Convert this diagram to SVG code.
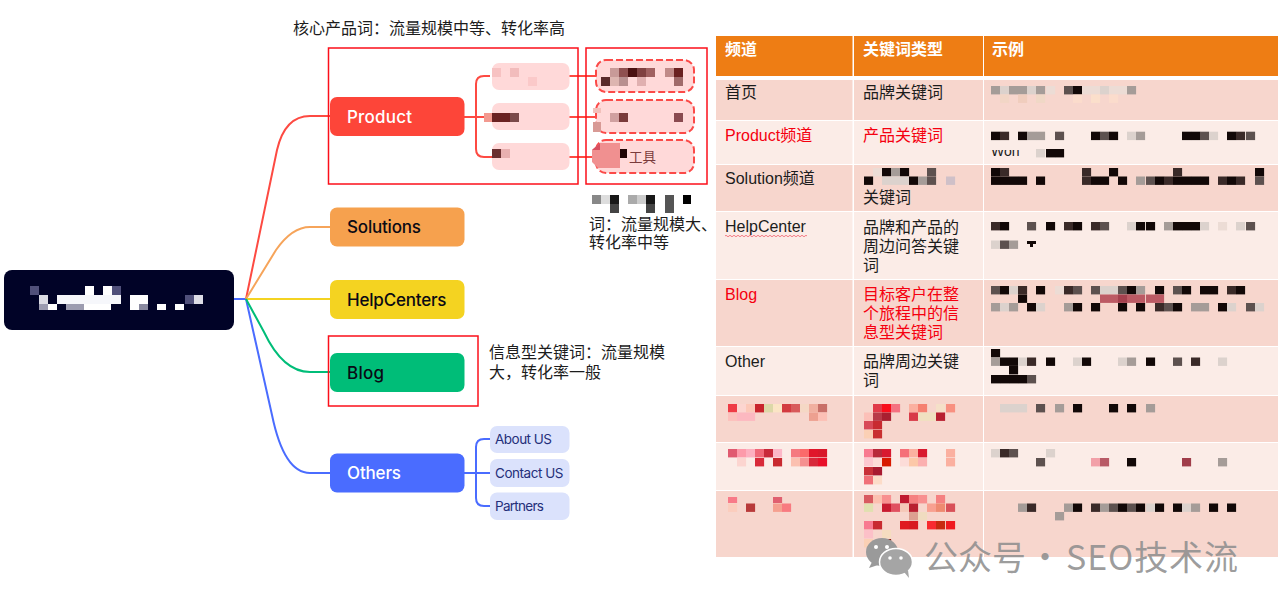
<svg xmlns="http://www.w3.org/2000/svg" width="1280" height="610" viewBox="0 0 1280 610">
<style>
text{font-family:"Liberation Sans","Noto Sans CJK SC",sans-serif;font-size:16px;fill:#1c1c1c}
.n{font-family:Inter,"Noto Sans",sans-serif;font-size:17px;font-weight:500;fill:#0a0a14}
.w{fill:#fff}
.s{font-family:Inter,"Noto Sans",sans-serif;font-size:13.500px;fill:#252f7a}
.red{fill:#f5000f}
.h{font-weight:700;fill:#fff}
.f{fill:none;stroke-width:2}
.box{fill:none;stroke:#fc0f1a;stroke-width:1.5}
.c{fill:#ffd9d9}
.dash{fill:#ffd9d9;stroke:#fb4a48;stroke-width:2;stroke-dasharray:7 3}
.o{fill:#dbe2fc}
.m rect{width:9.1px;height:8.4px}
.a{fill:#120807}.b{fill:#3a2a28}.d{fill:#5d514f}.g{fill:#a59c98}.l{fill:#dcd2cd}.t{fill:#ecdcd5}
.wm{font-family:"Noto Sans CJK SC","Liberation Sans",sans-serif;font-size:34px;fill:#8f8f8f;fill-opacity:.88}
</style>
<defs><clipPath id="wc"><rect x="990" y="150" width="40" height="8"/></clipPath></defs>

<g id="connectors">
<path class="f" stroke="#4a6cff" d="M234 299H246"/>
<path class="f" stroke="#fd4a42" d="M246 299L277 150Q285 116 310 116H330"/>
<path class="f" stroke="#f6a45a" d="M246 299L276 250Q292 227 310 227H330"/>
<path class="f" stroke="#f4d321" d="M246 299H330"/>
<path class="f" stroke="#4a6cff" d="M246 299L272 415Q284 473 310 473H330"/>
<path class="f" stroke="#00bd78" d="M246 299L264 332Q283 372 310 372H330"/>
<path class="f" stroke="#fd4a42" d="M464 117H492M490 76H484Q476 76 476 84V149Q476 157 484 157H492M569 76H596M569 117H596M569 157H596"/>
<path class="f" stroke="#4a6cff" d="M464 473H490M490 439H484Q476 439 476 447V498Q476 506 484 506H490"/>
</g>

<g id="root"><rect x="4" y="270" width="230" height="60" rx="8" fill="#010327"/>
<g><rect x="30" y="286" width="9" height="9" fill="#50507a"/><rect x="85" y="286" width="9" height="9" fill="#fff"/><rect x="103" y="286" width="9" height="9" fill="#fff"/><rect x="112" y="286" width="9" height="9" fill="#50507a"/><rect x="39" y="295" width="9" height="9" fill="#dcdce4"/><rect x="57" y="295" width="64" height="9" fill="#f6f7fb"/><rect x="130" y="295" width="18" height="9" fill="#fff"/><rect x="185" y="295" width="9" height="9" fill="#50507a"/><rect x="194" y="295" width="9" height="9" fill="#dddde6"/><rect x="39" y="304" width="9" height="6" fill="#9c9cb0"/><rect x="48" y="304" width="9" height="6" fill="#fff"/><rect x="66" y="304" width="18" height="6" fill="#9c9cb0"/><rect x="84" y="304" width="27" height="6" fill="#fff"/><rect x="130" y="304" width="9" height="6" fill="#fff"/><rect x="139" y="304" width="9" height="6" fill="#8a8aa0"/><rect x="157" y="304" width="9" height="6" fill="#fff"/><rect x="175" y="304" width="9" height="6" fill="#fff"/></g></g>

<g id="product"><rect x="330" y="97" width="134.500" height="39" rx="7" fill="#fd4539"/><text class="n w" x="347" y="123" textLength="65">Product</text></g>
<g id="solutions"><rect x="330" y="207.500" width="134.500" height="39" rx="7" fill="#f6a14e"/><text class="n" x="347" y="233" textLength="74">Solutions</text></g>
<g id="helpcenters"><rect x="330" y="280" width="134.500" height="39" rx="7" fill="#f4d321"/><text class="n" x="347" y="306" textLength="99.500">HelpCenters</text></g>
<g id="blog"><rect x="330" y="353" width="134.500" height="39" rx="7" fill="#00bd78"/><text class="n" x="347" y="379" textLength="37">Blog</text></g>
<g id="others"><rect x="330" y="453.500" width="134.500" height="39" rx="7" fill="#4a6cff"/><text class="n w" x="347" y="479" textLength="54">Others</text></g>

<g id="product-children">
<g id="p1"><rect class="c" x="492" y="63" width="77.500" height="27" rx="7"/><rect x="492" y="68" width="9" height="9" fill="#f7c2c2"/><rect x="510" y="68" width="9" height="9" fill="#f2bcbc"/><rect x="528" y="77" width="9" height="9" fill="#fbc9c9"/></g>
<g id="p2"><rect class="c" x="492" y="103" width="77.500" height="27" rx="7"/><rect x="484" y="113" width="8" height="9" fill="#f29a90"/><rect x="492" y="113" width="18" height="9" fill="#6a2222"/><rect x="510" y="113" width="9" height="9" fill="#7a4a4a"/></g>
<g id="p3"><rect class="c" x="492" y="143" width="77.500" height="27" rx="7"/><rect x="492" y="149" width="9" height="9" fill="#6a3030"/><rect x="501" y="149" width="9" height="9" fill="#e8b0b0"/></g>
</g>
<g id="d1"><rect class="dash" x="596" y="60" width="98" height="32" rx="10"/><rect x="610" y="68" width="9" height="9" fill="#c89a98"/><rect x="619" y="68" width="9" height="9" fill="#8f5050"/><rect x="628" y="68" width="9" height="9" fill="#4a1010"/><rect x="637" y="68" width="9" height="9" fill="#7f4040"/><rect x="646" y="68" width="9" height="9" fill="#a06060"/><rect x="665" y="68" width="9" height="9" fill="#c08a88"/><rect x="674" y="68" width="9" height="9" fill="#6a2020"/><rect x="601" y="77" width="9" height="9" fill="#5a2a2a"/><rect x="610" y="77" width="9" height="9" fill="#ddb5b0"/><rect x="619" y="77" width="9" height="9" fill="#b89090"/><rect x="637" y="77" width="9" height="9" fill="#e0b0b0"/><rect x="674" y="77" width="9" height="9" fill="#a06a6a"/></g>
<g id="d2"><rect class="dash" x="596" y="100" width="98" height="33" rx="10"/><rect x="593" y="108" width="8" height="5" fill="#f2c0ba"/><rect x="593" y="122" width="8" height="10" fill="#d89a95"/><rect x="610" y="113" width="9" height="9" fill="#d0a0a0"/><rect x="619" y="113" width="9" height="9" fill="#7a3a3a"/><rect x="674" y="113" width="9" height="9" fill="#8a4a50"/></g>
<g id="d3"><rect class="dash" x="596" y="140" width="98" height="33" rx="10"/><path d="M592 150L600 143H620V168H598L592 162Z" fill="#f09090"/><path d="M592 150L600 143V150Z" fill="#d85060"/><rect x="620" y="149" width="7" height="9" fill="#200404"/><text x="629" y="162" style="font-size:13.500px;fill:#7a3b3b">工具</text></g>

<g id="notes">
<text x="293" y="34">核心产品词：流量规模中等、转化率高</text>
<rect class="box" x="328.500" y="48" width="249.500" height="136"/>
<rect class="box" x="586" y="48" width="121" height="136"/>
<rect class="box" x="328.500" y="336" width="149.500" height="70"/>
<rect x="592" y="195" width="9" height="9" fill="#888"/><rect x="601" y="195" width="9" height="9" fill="#ddd"/><rect x="610" y="195" width="9" height="9" fill="#181818"/><rect x="610" y="204" width="9" height="9" fill="#444"/><rect x="628" y="195" width="9" height="9" fill="#aaa"/><rect x="637" y="195" width="9" height="9" fill="#ccc"/><rect x="646" y="195" width="9" height="9" fill="#181818"/><rect x="646" y="204" width="9" height="9" fill="#444"/><rect x="665" y="195" width="9" height="18" fill="#555"/><rect x="683" y="195" width="8" height="9" fill="#000"/>
<text x="589" y="230">词：流量规模大、</text><text x="589" y="248">转化率中等</text>
<text x="489" y="358">信息型关键词：流量规模</text><text x="489" y="378">大，转化率一般</text>
</g>

<g id="others-children">
<g id="about"><rect class="o" x="490" y="426" width="79.500" height="27" rx="7"/><text class="s" x="495" y="444" textLength="57">About US</text></g>
<g id="contact"><rect class="o" x="490" y="459" width="79.500" height="28" rx="7"/><text class="s" x="495" y="478" textLength="68.500">Contact US</text></g>
<g id="partners"><rect class="o" x="490" y="492.500" width="79.500" height="27.500" rx="7"/><text class="s" x="495" y="511" textLength="49">Partners</text></g>
</g>

<g id="table">
<g fill="#ee7d14"><rect x="716" y="36" width="136.500" height="40"/><rect x="854" y="36" width="129" height="40"/><rect x="984" y="36" width="294" height="40"/></g>
<g fill="#f7d6cd"><rect x="716" y="80" width="136.500" height="40"/><rect x="854" y="80" width="129" height="40"/><rect x="984" y="80" width="294" height="40"/>
<rect x="716" y="165" width="136.500" height="46"/><rect x="854" y="165" width="129" height="46"/><rect x="984" y="165" width="294" height="46"/>
<rect x="716" y="280" width="136.500" height="66"/><rect x="854" y="280" width="129" height="66"/><rect x="984" y="280" width="294" height="66"/>
<rect x="716" y="396" width="136.500" height="46"/><rect x="854" y="396" width="129" height="46"/><rect x="984" y="396" width="294" height="46"/>
<rect x="716" y="491" width="136.500" height="66"/><rect x="854" y="491" width="129" height="66"/><rect x="984" y="491" width="294" height="66"/></g>
<g fill="#fbece7"><rect x="716" y="121" width="136.500" height="43"/><rect x="854" y="121" width="129" height="43"/><rect x="984" y="121" width="294" height="43"/>
<rect x="716" y="212" width="136.500" height="67"/><rect x="854" y="212" width="129" height="67"/><rect x="984" y="212" width="294" height="67"/>
<rect x="716" y="347" width="136.500" height="48"/><rect x="854" y="347" width="129" height="48"/><rect x="984" y="347" width="294" height="48"/>
<rect x="716" y="443" width="136.500" height="47"/><rect x="854" y="443" width="129" height="47"/><rect x="984" y="443" width="294" height="47"/></g>

<text class="h" x="725" y="55">频道</text><text class="h" x="863" y="55">关键词类型</text><text class="h" x="992" y="55">示例</text>
<text x="725" y="98">首页</text><text x="863" y="98">品牌关键词</text>
<text class="red" x="725" y="141">Product频道</text><text class="red" x="863" y="141">产品关键词</text>
<text x="725" y="184">Solution频道</text><text x="863" y="203">关键词</text>
<text x="725" y="232">HelpCenter</text>
<path d="M725 236q1-1.500 2 0t2 0t2 0t2 0t2 0t2 0t2 0t2 0t2 0t2 0t2 0t2 0t2 0t2 0t2 0t2 0t2 0t2 0t2 0t2 0t2 0t2 0t2 0t2 0t2 0t2 0t2 0t2 0t2 0t2 0t2 0t2 0t2 0t2 0t2 0t2 0t2 0t2 0t2 0t2 0t2 0" fill="none" stroke="#ef4a5a" stroke-width=".7"/>
<text x="863" y="233">品牌和产品的</text><text x="863" y="252">周边问答关键</text><text x="863" y="271">词</text>
<text class="red" x="725" y="300">Blog</text><text class="red" x="863" y="300">目标客户在整</text><text class="red" x="863" y="319">个旅程中的信</text><text class="red" x="863" y="338">息型关键词</text>
<text x="725" y="367">Other</text><text x="863" y="367">品牌周边关键</text><text x="863" y="386">词</text>
<text clip-path="url(#wc)" x="991" y="156" style="font-size:14px">Won</text>

<g id="mosaic-dark" class="m">
<rect class="g" x="991" y="86"/><rect class="l" x="1000" y="86"/><rect class="g" x="1009" y="86"/><rect class="g" x="1018" y="86"/><rect class="l" x="1027" y="86"/><rect class="g" x="1036" y="86"/><rect class="t" x="1046" y="86"/><rect class="d" x="1064" y="86"/><rect class="a" x="1073" y="86"/><rect class="t" x="1082" y="86"/><rect class="t" x="1091" y="86"/><rect class="l" x="1100" y="86"/><rect class="t" x="1109" y="86"/><rect class="t" x="1118" y="86"/><rect class="g" x="1127" y="86"/>
<rect x="1000" y="94.500" fill="#f2d6c6"/><rect x="1018" y="94.500" fill="#f0cdbd"/><rect x="1036" y="94.500" fill="#f0d8c6"/><rect x="1073" y="94.500" fill="#fbdccc"/><rect x="1091" y="94.500" fill="#fbdfcb"/><rect x="1109" y="94.500" fill="#fbdccc"/>
<rect class="a" x="991" y="131.700"/><rect class="b" x="1000" y="131.700"/><rect class="a" x="1018" y="131.700"/><rect class="g" x="1027" y="131.700"/><rect class="g" x="1036" y="131.700"/><rect class="d" x="1055" y="131.700"/><rect class="a" x="1091" y="131.700"/><rect class="d" x="1100" y="131.700"/><rect class="a" x="1109" y="131.700"/><rect class="l" x="1127" y="131.700"/><rect class="g" x="1136" y="131.700"/><rect class="a" x="1182" y="131.700"/><rect class="a" x="1191" y="131.700"/><rect class="d" x="1200" y="131.700"/><rect class="l" x="1209" y="131.700"/><rect class="a" x="1227" y="131.700"/><rect class="b" x="1236" y="131.700"/><rect class="d" x="1246" y="131.700"/>
<rect class="l" x="1036" y="149"/><rect class="a" x="1046" y="149"/><rect class="a" x="1055" y="149"/>
<rect class="a" x="991" y="168"/><rect class="b" x="1000" y="168"/><rect class="a" x="991" y="176.500"/><rect class="a" x="1000" y="176.500"/><rect class="a" x="1009" y="176.500"/><rect class="a" x="1018" y="176.500"/><rect class="a" x="1036" y="176.500"/><rect class="b" x="1082" y="168"/><rect class="b" x="1082" y="176.500"/><rect class="a" x="1091" y="176.500"/><rect class="a" x="1100" y="176.500"/><rect class="a" x="1109" y="168"/><rect class="a" x="1118" y="176.500"/><rect class="g" x="1136" y="176.500"/><rect class="d" x="1146" y="176.500"/><rect class="a" x="1155" y="176.500"/><rect class="b" x="1164" y="176.500"/><rect class="a" x="1173" y="176.500"/><rect class="a" x="1182" y="176.500"/><rect class="a" x="1191" y="176.500"/><rect class="a" x="1200" y="176.500"/><rect class="b" x="1173" y="168"/><rect class="b" x="1218" y="176.500"/><rect class="a" x="1227" y="176.500"/><rect class="b" x="1236" y="176.500"/><rect class="a" x="1255" y="168"/><rect class="d" x="1255" y="176.500"/>
<rect class="t" x="873" y="168"/><rect class="a" x="882" y="168"/><rect class="g" x="891" y="168"/><rect class="a" x="900" y="168"/><rect class="d" x="927" y="168"/><rect class="a" x="864" y="176.500"/><rect class="l" x="882" y="176.500"/><rect class="l" x="891" y="176.500"/><rect class="l" x="900" y="176.500"/><rect class="a" x="909" y="176.500"/><rect class="g" x="918" y="176.500"/><rect class="d" x="927" y="176.500"/><rect x="946" y="176.500" fill="#cfc0c8"/>
<rect class="b" x="991" y="222"/><rect class="a" x="1000" y="222"/><rect class="d" x="1027" y="222"/><rect class="a" x="1046" y="222"/><rect class="b" x="1064" y="222"/><rect class="a" x="1073" y="222"/><rect class="b" x="1091" y="222"/><rect class="d" x="1100" y="222"/><rect class="l" x="1127" y="222"/><rect class="a" x="1136" y="222"/><rect class="a" x="1146" y="222"/><rect class="g" x="1164" y="222"/><rect class="a" x="1173" y="222"/><rect class="a" x="1182" y="222"/><rect class="a" x="1191" y="222"/><rect class="l" x="1200" y="222"/><rect class="t" x="1218" y="222"/><rect class="l" x="1236" y="222"/><rect class="d" x="1246" y="222"/>
<rect class="l" x="991" y="240.500"/><rect class="d" x="1000" y="240.500"/><rect class="g" x="1009" y="240.500"/><path class="a" d="M1027 241h9v3h-3v3h-3v-3h-3z"/>
<rect class="d" x="991" y="286"/><rect class="a" x="1000" y="286"/><rect class="l" x="1009" y="286"/><rect class="b" x="1018" y="286"/><rect class="a" x="1036" y="286"/><rect class="t" x="1055" y="286"/><rect class="b" x="1064" y="286"/><rect class="d" x="1073" y="286"/><rect class="d" x="1091" y="286"/><rect class="l" x="1100" y="286"/><rect class="l" x="1109" y="286"/><rect class="d" x="1118" y="286"/><rect class="a" x="1127" y="286"/><rect class="g" x="1136" y="286"/><rect class="a" x="1155" y="286"/><rect class="d" x="1173" y="286"/><rect class="a" x="1182" y="286"/><rect class="a" x="1200" y="286"/><rect class="a" x="1209" y="286"/><rect class="b" x="1227" y="286"/><rect class="a" x="1236" y="286"/>
<rect class="a" x="1018" y="294.500"/><rect fill="#bc5a64" x="1100" y="294.500"/><rect fill="#bc5a64" x="1109" y="294.500"/><rect fill="#a5404e" x="1118" y="294.500"/><rect fill="#bc5a64" x="1127" y="294.500"/><rect fill="#bc5a64" x="1136" y="294.500"/><rect fill="#bc5a64" x="1146" y="294.500"/><rect fill="#bc5a64" x="1155" y="294.500"/>
<rect class="g" x="991" y="303"/><rect class="l" x="1000" y="303"/><rect class="g" x="1009" y="303"/><rect class="a" x="1027" y="303"/><rect class="l" x="1036" y="303"/><rect class="g" x="1064" y="303"/><rect class="a" x="1073" y="303"/><rect class="a" x="1091" y="303"/><rect class="a" x="1118" y="303"/><rect class="a" x="1136" y="303"/><rect class="b" x="1155" y="303"/><rect class="d" x="1164" y="303"/><rect class="a" x="1173" y="303"/><rect class="g" x="1191" y="303"/><rect class="g" x="1200" y="303"/><rect class="a" x="1218" y="303"/><rect class="l" x="1227" y="303"/><rect class="d" x="1246" y="303"/><rect class="l" x="1255" y="303"/>
<rect class="a" x="991" y="349"/><rect class="g" x="991" y="357.500"/><rect class="a" x="1000" y="357.500"/><rect class="a" x="1009" y="357.500"/><rect class="l" x="1018" y="357.500"/><rect class="b" x="1027" y="357.500"/><rect class="a" x="1046" y="357.500"/><rect class="l" x="1073" y="357.500"/><rect class="a" x="1082" y="357.500"/><rect class="l" x="1118" y="357.500"/><rect class="g" x="1127" y="357.500"/><rect class="a" x="1146" y="357.500"/><rect class="d" x="1173" y="357.500"/><rect class="b" x="1191" y="357.500"/><rect class="l" x="1218" y="357.500"/><rect class="a" x="1009" y="366"/><rect class="a" x="991" y="375"/><rect class="a" x="1000" y="375"/><rect class="a" x="1009" y="375"/><rect class="a" x="1018" y="375"/><rect class="d" x="1027" y="375"/>
<rect class="l" x="1000" y="404"/><rect class="l" x="1009" y="404"/><rect class="l" x="1018" y="404"/><rect class="d" x="1036" y="404"/><rect class="g" x="1055" y="404"/><rect class="a" x="1073" y="404"/><rect class="a" x="1109" y="404"/><rect class="a" x="1127" y="404"/><rect class="g" x="1146" y="404"/>
<rect class="l" x="991" y="449"/><rect class="b" x="1000" y="449"/><rect class="d" x="1009" y="449"/><rect class="l" x="1046" y="449"/><rect class="d" x="1036" y="458"/><rect fill="#f2a0a8" x="1091" y="458"/><rect fill="#b85a66" x="1100" y="458"/><rect class="a" x="1127" y="458"/><rect fill="#a03d4a" x="1182" y="458"/><rect class="g" x="1218" y="458"/>
<rect class="g" x="1018" y="503.500"/><rect class="b" x="1027" y="503.500"/><rect class="g" x="1064" y="503.500"/><rect class="a" x="1073" y="503.500"/><rect class="b" x="1091" y="503.500"/><rect class="g" x="1100" y="503.500"/><rect class="d" x="1109" y="503.500"/><rect class="a" x="1118" y="503.500"/><rect class="d" x="1127" y="503.500"/><rect class="a" x="1136" y="503.500"/><rect class="l" x="1146" y="503.500"/><rect class="a" x="1155" y="503.500"/><rect class="a" x="1173" y="503.500"/><rect class="l" x="1182" y="503.500"/><rect class="g" x="1191" y="503.500"/><rect class="a" x="1209" y="503.500"/><rect class="a" x="1227" y="503.500"/><rect class="g" x="1055" y="512"/>
</g>

<g id="mosaic-red" class="m">
<rect fill="#ef3b45" x="728" y="404"/><rect fill="#fcd5d0" x="737" y="404"/><rect fill="#fcc8b8" x="746" y="404"/><rect fill="#c8242c" x="755" y="404"/><rect fill="#dcd8a8" x="764" y="404"/><rect fill="#fbe5c5" x="773" y="404"/><rect fill="#d33b40" x="782" y="404"/><rect fill="#d85a5a" x="791" y="404"/><rect fill="#f5d8c5" x="800" y="404"/><rect fill="#f0b0a0" x="809" y="404"/><rect fill="#c87068" x="818" y="404"/>
<rect fill="#fcc0bc" x="728" y="412.500"/><rect fill="#fcb8c0" x="737" y="412.500"/><rect fill="#fcb8c0" x="746" y="412.500"/><rect fill="#eda090" x="809" y="412.500"/><rect fill="#fcc0b5" x="818" y="412.500"/>
<rect fill="#e05a70" x="728" y="449"/><rect fill="#fd9aaa" x="737" y="449"/><rect fill="#fdb0c0" x="746" y="449"/><rect fill="#f06878" x="755" y="449"/><rect fill="#c82a3a" x="764" y="449"/><rect fill="#fcb8c8" x="773" y="449"/><rect fill="#f57a80" x="791" y="449"/><rect fill="#fb6a6a" x="800" y="449"/><rect fill="#e0162a" x="809" y="449"/><rect fill="#d8182a" x="818" y="449"/>
<rect fill="#d82a3a" x="755" y="458"/><rect fill="#c82a30" x="773" y="458"/><rect fill="#fbc0b0" x="791" y="458"/><rect fill="#f59090" x="800" y="458"/><rect fill="#e8102a" x="818" y="458"/><rect fill="#d8283a" x="809" y="458"/><rect fill="#fcd5d0" x="737" y="458"/>
<rect fill="#f87a88" x="728" y="497" style="height:6px"/><rect fill="#e06070" x="773" y="497" style="height:6px"/><rect fill="#fbcdbd" x="728" y="503.500"/><rect fill="#b83a3a" x="746" y="503.500"/><rect fill="#f5a090" x="773" y="503.500"/><rect fill="#f87a80" x="782" y="503.500"/>
<rect fill="#e03a48" x="873" y="404"/><rect fill="#f80d1a" x="882" y="404"/><rect fill="#f57080" x="891" y="404"/><rect fill="#fbb0a0" x="909" y="404"/><rect fill="#f58070" x="918" y="404"/><rect fill="#f5e0c8" x="936" y="404"/><rect fill="#f89080" x="946" y="404"/>
<rect fill="#fcc0b8" x="864" y="412.500"/><rect fill="#b83a48" x="873" y="412.500"/><rect fill="#a82030" x="882" y="412.500"/><rect fill="#d83a48" x="909" y="412.500"/><rect fill="#f0e0c0" x="918" y="412.500"/><rect fill="#f0e0c0" x="927" y="412.500"/><rect fill="#b82030" x="936" y="412.500"/>
<rect fill="#d84a58" x="864" y="421"/><rect fill="#c82a30" x="873" y="421"/><rect fill="#fbd0b5" x="864" y="430"/><rect fill="#c83030" x="873" y="430"/>
<rect fill="#f87a90" x="864" y="449"/><rect fill="#b82a3a" x="873" y="449"/><rect fill="#d81a30" x="882" y="449"/><rect fill="#f57078" x="900" y="449"/><rect fill="#fbb0a0" x="909" y="449"/><rect fill="#d81a30" x="918" y="449"/><rect fill="#fbb0a0" x="946" y="449"/>
<rect fill="#fcc8d0" x="864" y="458"/><rect fill="#fcdcd8" x="873" y="458"/><rect fill="#d81a00" x="882" y="458"/><rect fill="#fcdcd8" x="900" y="458"/><rect fill="#fcc8a8" x="909" y="458"/><rect fill="#fbb0b0" x="918" y="458"/><rect fill="#fbb0a0" x="946" y="458"/>
<rect fill="#c83038" x="864" y="467"/><rect fill="#a81a30" x="873" y="467"/><rect fill="#f07078" x="864" y="476"/><rect fill="#fcdcc8" x="873" y="476"/>
<rect fill="#d85a60" x="864" y="495"/><rect fill="#fcc0b0" x="873" y="495"/><rect fill="#f89090" x="882" y="495"/><rect fill="#c01a30" x="900" y="495"/><rect fill="#f58080" x="909" y="495"/><rect fill="#f89090" x="918" y="495"/><rect fill="#f58080" x="936" y="495"/>
<rect fill="#e0e0b0" x="864" y="503.500"/><rect fill="#c81a30" x="882" y="503.500"/><rect fill="#e05060" x="891" y="503.500"/><rect fill="#f5c8b8" x="900" y="503.500"/><rect fill="#b82030" x="909" y="503.500"/><rect fill="#f8a090" x="927" y="503.500"/><rect fill="#ee8a70" x="936" y="503.500"/><rect fill="#d85058" x="946" y="503.500"/>
<rect fill="#dca090" x="909" y="512"/><rect fill="#f0dcc0" x="918" y="512"/>
<rect fill="#f87a90" x="864" y="521"/><rect fill="#c82a30" x="873" y="521"/><rect fill="#e01a20" x="900" y="521"/><rect fill="#d81a20" x="909" y="521"/><rect fill="#f82a30" x="927" y="521"/><rect fill="#c82a10" x="936" y="521"/><rect fill="#f01a20" x="946" y="521"/>
<rect fill="#fcc0c8" x="864" y="530"/><rect fill="#f5dcc0" x="882" y="530"/><rect fill="#8a1a10" x="882" y="539"/><rect fill="#fbd0b5" x="864" y="539"/>
</g>
</g>

<g id="watermark">
<ellipse cx="882" cy="552" rx="16" ry="14" fill="#9a9a9a"/><path d="M872 562l-3 6 9-3z" fill="#9a9a9a"/>
<ellipse cx="896" cy="562" rx="16.500" ry="13.500" fill="#a5a5a5" stroke="#fff" stroke-width="1.500"/><path d="M904 572l5 6-1-8z" fill="#a5a5a5"/>
<circle cx="876" cy="547" r="2" fill="#fff"/><circle cx="887" cy="547" r="2" fill="#fff"/><circle cx="890" cy="558" r="1.800" fill="#fff"/><circle cx="901" cy="558" r="1.800" fill="#fff"/>
<text class="wm" x="924" y="570">公众号</text><text class="wm" x="1028" y="570">·</text><text class="wm" x="1066" y="570" textLength="172">SEO技术流</text>
</g>
</svg>
